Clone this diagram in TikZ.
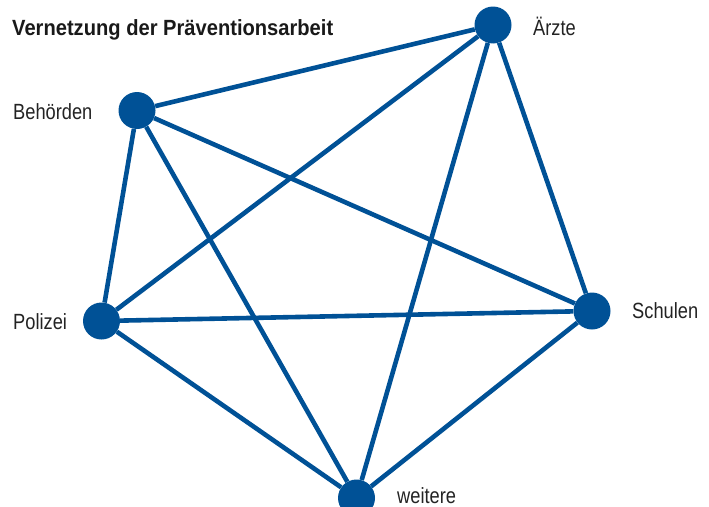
\documentclass[tikz,border=0pt]{standalone}
\usepackage{fontspec}
\setmainfont{Liberation Sans}[FakeStretch=0.83]
\newfontfamily\titlefont{Liberation Sans}[FakeStretch=0.915]
\definecolor{netblue}{RGB}{0,81,150}
\definecolor{txt}{RGB}{35,35,35}
\begin{document}
\begin{tikzpicture}[x=1pt,y=-1pt,
  dot/.style={circle,fill=netblue,draw=none,minimum size=37pt,inner sep=0pt},
  link/.style={draw=netblue,line width=4.6pt},
  lab/.style={anchor=base west,inner sep=0pt,text=txt,font=\fontsize{22}{26}\selectfont},
  ttl/.style={anchor=base west,inner sep=0pt,text=black!90,font=\titlefont\fontsize{22}{26}\selectfont\bfseries}]
\useasboundingbox (0,0) rectangle (709,506);
\node[dot] (aerzte) at (493,25) {};
\node[dot] (behoerden) at (137,110.5) {};
\node[dot] (polizei) at (101.5,321) {};
\node[dot] (schulen) at (592,311) {};
\node[dot] (weitere) at (356.5,498) {};
\foreach \a/\b in {aerzte/behoerden,aerzte/polizei,aerzte/weitere,aerzte/schulen,
  behoerden/polizei,behoerden/schulen,behoerden/weitere,
  polizei/schulen,polizei/weitere,schulen/weitere}
  \draw[link] (\a) -- (\b);
\node[ttl] (title) at (12,35) {Vernetzung der Präventionsarbeit};
\node[lab] (laerzte) at (533,35) {Ärzte};
\node[lab] (lbehoerden) at (13,119) {Behörden};
\node[lab] (lpolizei) at (13,329) {Polizei};
\node[lab] (lschulen) at (632,318) {Schulen};
\node[lab] (lweitere) at (397,503.5) {weitere};
\end{tikzpicture}
\end{document}
